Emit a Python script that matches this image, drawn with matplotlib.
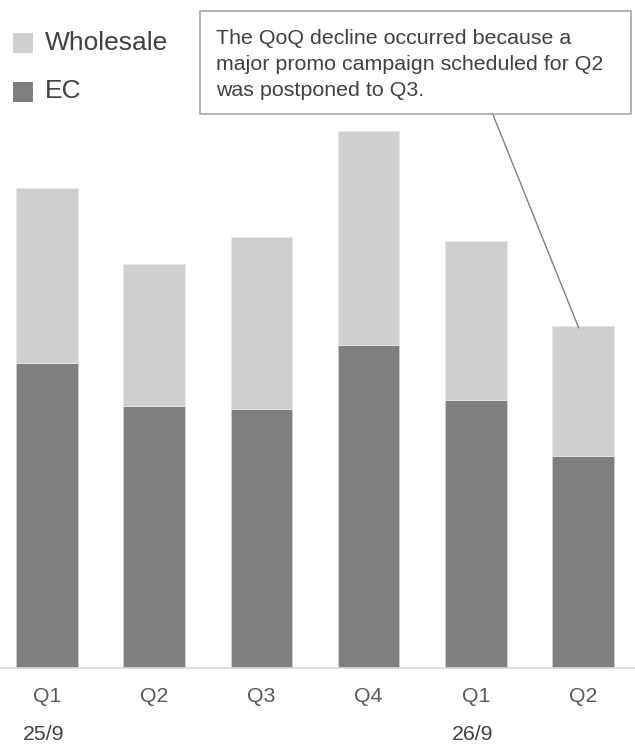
import matplotlib.pyplot as plt
from matplotlib.patches import Rectangle
import numpy as np

# Quarterly sales split by channel
quarters = ["Q1", "Q2", "Q3", "Q4", "Q1", "Q2"]
periods = ["25/9", "", "", "", "26/9", ""]
ec = [305, 262, 259, 323, 268, 212]
wholesale = [175, 142, 172, 214, 159, 130]

note = ("The QoQ decline occurred because a\n"
        "major promo campaign scheduled for Q2\n"
        "was postponed to Q3.")

light = "#d0cecf"
dark = "#7f7f7f"

plt.rcParams['font.family'] = ['Liberation Sans', 'DejaVu Sans']

W, H = 635, 749
fig = plt.figure(figsize=(W / 100, H / 100), dpi=100)
ax = fig.add_axes([0, (H - 668) / H, 1, 668 / H])

x = np.arange(len(quarters))
ax.bar(x, ec, width=0.573, color=dark, edgecolor="#cfcfcf", linewidth=0.6)
ax.bar(x, wholesale, width=0.573, bottom=ec, color=light,
       edgecolor="#e8e8e8", linewidth=0.6)

ax.set_xlim(-0.438, 5.485)
ax.set_ylim(0, 668)

# only the baseline stays visible
for side in ["left", "right", "top"]:
    ax.spines[side].set_visible(False)
ax.spines["bottom"].set_color("#d9d9d9")
ax.spines["bottom"].set_linewidth(1.2)
ax.set_yticks([])
ax.set_xticks(x)
ax.set_xticklabels(quarters, fontsize=15.3, color="#595959")
ax.tick_params(axis="x", length=0, pad=14)

# fiscal year under the first quarter of each year
for i, p in enumerate(periods):
    if p:
        ax.text(i - 0.03, -66, p, ha="center", va="center", fontsize=15.3,
                color="#404040", clip_on=False)

# legend drawn by hand in figure pixels
def px(v):
    return (H - v) / H

for row, (label, col) in enumerate([("Wholesale", light), ("EC", dark)]):
    top = 33 + row * 48.5
    fig.add_artist(Rectangle((13 / W, px(top + 20)), 20 / W, 20 / H,
                             transform=fig.transFigure, color=col, lw=0))
    fig.text(45 / W, px(top + 10), label, fontsize=19, color="#404040",
             va="center", ha="left")

# callout box with leader line to the last bar
fig.add_artist(Rectangle((200 / W, px(114)), 431 / W, 103 / H,
                         transform=fig.transFigure, facecolor="white",
                         edgecolor="#a6a6a6", lw=1.2))
fig.text(216 / W, px(28.5), note, fontsize=15.4, color="#404040",
         va="top", ha="left", linespacing=1.48)

last = len(quarters) - 1
ax.annotate("", xy=(last - 0.04, ec[last] + wholesale[last] - 2),
            xycoords="data", xytext=(492.7, H - 114),
            textcoords="figure pixels",
            arrowprops=dict(arrowstyle="-", color="#7f7f7f", lw=1,
                            shrinkA=0, shrinkB=0))

fig.savefig("out.png", dpi=100)
